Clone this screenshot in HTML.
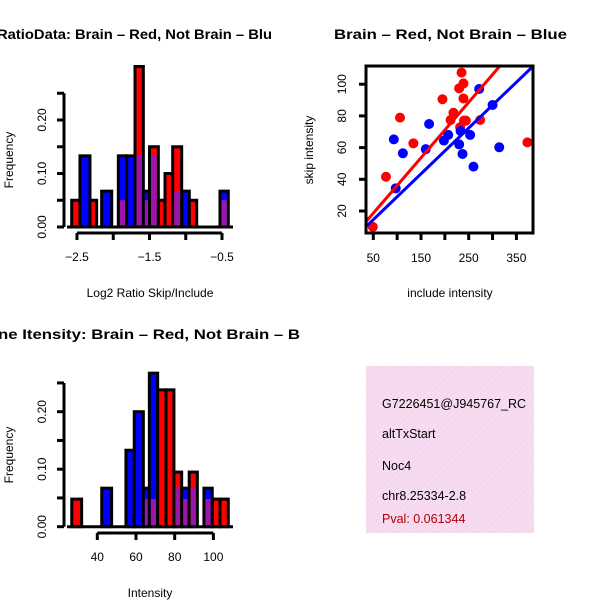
<!DOCTYPE html>
<html><head><meta charset="utf-8"><style>
html,body{margin:0;padding:0;background:#fff;}
svg{display:block;font-family:"Liberation Sans",sans-serif;}
</style></head><body>
<svg id="fig" width="600" height="600" viewBox="0 0 600 600" xmlns="http://www.w3.org/2000/svg">
<defs>
<pattern id="stripes" width="4" height="4" patternUnits="userSpaceOnUse" patternTransform="rotate(45)">
<rect width="4" height="4" fill="#f9d4f3"/><rect width="1.2" height="4" fill="#efe6ea"/>
</pattern>
</defs>
<text x="-3" y="39" font-size="14" font-weight="bold" textLength="275" lengthAdjust="spacingAndGlyphs">RatioData: Brain – Red, Not Brain – Blu</text>
<text x="334" y="39" font-size="14" font-weight="bold" textLength="233" lengthAdjust="spacingAndGlyphs">Brain – Red, Not Brain – Blue</text>
<text x="-2" y="339" font-size="14" font-weight="bold" textLength="302" lengthAdjust="spacingAndGlyphs">ne Itensity: Brain – Red, Not Brain – B</text>
<g id="h1"></g>
<g id="sc"></g>
<g id="h2"></g>
<g>
<rect x="366" y="366" width="168" height="167" fill="url(#stripes)"/>
<svg x="366" y="366" width="168" height="167" overflow="hidden">
<text x="16" y="42" font-size="12.5">G7226451@J945767_RC</text>
<text x="16" y="72" font-size="12.5">altTxStart</text>
<text x="16" y="104" font-size="12.5">Noc4</text>
<text x="16" y="134" font-size="12.5">chr8.25334-2.8</text>
<text x="16" y="157" font-size="12.5" fill="#b00000">Pval: 0.061344</text>
</svg>
</g>
</svg>
<script>
// Ratio histogram data
const h1Left = [-2.573,-2.459,-2.321,-2.16,-1.93,-1.815,-1.70,-1.585,-1.50,-1.378,-1.286,-1.18,-1.056,-0.951,-0.528];
const h1Right = [-2.459,-2.321,-2.229,-2.021,-1.815,-1.70,-1.585,-1.50,-1.378,-1.286,-1.18,-1.056,-0.951,-0.849,-0.413];
const h1Red = [0.05,0,0.05,0,0.05,0,0.30,0.05,0.15,0.05,0.10,0.15,0,0.05,0.05];
const h1Blue = [0,0.133,0,0.067,0.133,0.133,0.133,0.067,0.133,0,0,0.067,0.067,0,0.067];
const h1XTicks = [-2.5,-2,-1.5,-1,-0.5];
const h1XLabels = ["−2.5","","−1.5","","−0.5"];
const h1YTicks = [0,0.05,0.10,0.15,0.20,0.25];
const h1YLabels = ["0.00","","0.10","","0.20",""];
// Intensity histogram data
const h2Left = [26.8,42.3,54.8,59.1,63.8,66.9,71.2,75.5,79.6,83.6,87.5,95.1,99.4,103.4];
const h2Right = [31.9,47.4,59.1,63.8,66.9,71.2,75.5,79.6,83.6,87.5,91.7,99.4,103.4,107.7];
const h2Red = [0.048,0,0,0,0.048,0.048,0.238,0.238,0.095,0.048,0.095,0.048,0.048,0.048];
const h2Blue = [0,0.067,0.133,0.2,0.067,0.267,0,0,0.067,0.067,0.067,0.067,0,0];
const h2XTicks = [40,60,80,100];
const h2YTicks = [0,0.05,0.10,0.15,0.20,0.25];
const h2YLabels = ["0.00","","0.10","","0.20",""];
// Scatter data
const redX = [49,76.6,106,134,195,212,218,230,235,239,239,240,244,232,274,373];
const redY = [10,41.6,78.9,62.7,90.5,77.4,82,97.4,107.3,100.5,91,77,77,72.8,77.4,63.3];
const blueX = [93,97,112,160,167,198,207,230,233,237,253,260,272,300,314];
const blueY = [65.2,34.3,56.4,59,74.9,64.4,68,62,70.5,56,68,48,97,86.9,60.2];
const redFit = [1.1,0.35];
const blueFit = [0.1,0.289];
const scXTicks = [50,100,150,200,250,300,350];
const scXLabels = ["50","","150","","250","","350"];
const scYTicks = [20,40,60,80,100];

const NS="http://www.w3.org/2000/svg";
function mk(parent,tag,attrs){const e=document.createElementNS(NS,tag);for(const k in attrs)e.setAttribute(k,attrs[k]);parent.appendChild(e);return e;}

function hist(g,cfg,L,R,red,blue,xt,xl,yt,yl,xtitle){
  const sx=v=>cfg.x0+(v-cfg.xv0)*cfg.kx, sy=v=>cfg.y0-v*cfg.ky;
  for(let i=0;i<L.length;i++){
    const x1=sx(L[i]),x2=sx(R[i]);
    const hi=Math.max(red[i],blue[i]), lo=Math.min(red[i],blue[i]);
    if(hi<=0) continue;
    const col=red[i]>=blue[i]?"#ff0000":"#0000ff";
    const b=mk(g,"rect",{x:x1,y:sy(hi),width:x2-x1,height:sy(0)-sy(hi),fill:col,stroke:"#000","stroke-width":3});
    
    
    if(lo>0){
      const p=mk(g,"rect",{x:x1+1.5,y:sy(lo),width:x2-x1-3,height:sy(0)-sy(lo),fill:"#9a16a8"});
      
      
    }
  }
  mk(g,"line",{x1:67,x2:233,y1:sy(0),y2:sy(0),stroke:"#000","stroke-width":3});
  const ya=mk(g,"g",{});
  
  
  mk(ya,"line",{x1:cfg.yaxX,x2:cfg.yaxX,y1:sy(yt[0]),y2:sy(yt[yt.length-1]),stroke:"#000","stroke-width":3});
  yt.forEach((v,i)=>{
    mk(ya,"line",{x1:cfg.yaxX-7,x2:cfg.yaxX,y1:sy(v),y2:sy(v),stroke:"#000","stroke-width":3});
    if(yl[i]){const t=mk(ya,"text",{x:0,y:0,"font-size":12,"text-anchor":"middle",transform:`translate(${cfg.yaxX-18},${sy(v)}) rotate(-90)`});t.textContent=yl[i];
      
      }
  });
  const yt2=mk(g,"text",{x:0,y:0,"font-size":12,"text-anchor":"middle",transform:`translate(13,${cfg.ymid}) rotate(-90)`});yt2.textContent="Frequency";
  
  
  const xa=mk(g,"g",{});
  
  
  mk(xa,"line",{x1:sx(xt[0]),x2:sx(xt[xt.length-1]),y1:cfg.xaxY,y2:cfg.xaxY,stroke:"#000","stroke-width":3});
  xt.forEach((v,i)=>{
    mk(xa,"line",{x1:sx(v),x2:sx(v),y1:cfg.xaxY,y2:cfg.xaxY+7,stroke:"#000","stroke-width":3});
    if(xl[i]){const t=mk(xa,"text",{x:sx(v),y:cfg.xaxY+28,"font-size":12,"text-anchor":"middle"});t.textContent=xl[i];
      
      }
  });
  const xt2=mk(g,"text",{x:150,y:cfg.xaxY+64,"font-size":12,"text-anchor":"middle"});xt2.textContent=xtitle;
  
  
}

hist(document.getElementById("h1"),{x0:77,xv0:-2.5,kx:72.5,y0:227,ky:535,yaxX:64,xaxY:233,ymid:160},
  h1Left,h1Right,h1Red,h1Blue,h1XTicks,h1XLabels,h1YTicks,h1YLabels,"Log2 Ratio Skip/Include");
hist(document.getElementById("h2"),{x0:97.3,xv0:40,kx:38.7/20,y0:526.7,ky:575,yaxX:64,xaxY:533,ymid:455},
  h2Left,h2Right,h2Red,h2Blue,h2XTicks,h2XTicks.map(String),h2YTicks,h2YLabels,"Intensity");

(function(){
  const g=document.getElementById("sc");
  const sx=v=>373.3+(v-50)*47.7/100, sy=v=>211-(v-20)*31.7/20;
  const clip=mk(g,"clipPath",{id:"scclip"});mk(clip,"rect",{x:366,y:66,width:167,height:167});
  const pts=mk(g,"g",{"clip-path":"url(#scclip)"});
  redX.forEach((x,i)=>{const c=mk(pts,"circle",{cx:sx(x),cy:sy(redY[i]),r:5,fill:"#ff0000"});
    
    });
  blueX.forEach((x,i)=>{const c=mk(pts,"circle",{cx:sx(x),cy:sy(blueY[i]),r:5,fill:"#0000ff"});
    
    });
  const xa=0,xb=450;
  const rl=mk(pts,"line",{x1:sx(xa),y1:sy(redFit[0]+redFit[1]*xa),x2:sx(xb),y2:sy(redFit[0]+redFit[1]*xb),stroke:"#ff0000","stroke-width":3});
  
  
  const bl=mk(pts,"line",{x1:sx(xa),y1:sy(blueFit[0]+blueFit[1]*xa),x2:sx(xb),y2:sy(blueFit[0]+blueFit[1]*xb),stroke:"#0000ff","stroke-width":3});
  
  
  const box=mk(g,"rect",{x:366,y:66,width:167,height:167,fill:"none",stroke:"#000","stroke-width":3});
  
  
  scXTicks.forEach((v,i)=>{
    mk(g,"line",{x1:sx(v),x2:sx(v),y1:233,y2:240,stroke:"#000","stroke-width":3});
    if(scXLabels[i]){const t=mk(g,"text",{x:sx(v),y:262,"font-size":12,"text-anchor":"middle"});t.textContent=scXLabels[i];
      
      }
  });
  scYTicks.forEach(v=>{
    mk(g,"line",{x1:359,x2:366,y1:sy(v),y2:sy(v),stroke:"#000","stroke-width":3});
    const t=mk(g,"text",{x:0,y:0,"font-size":12,"text-anchor":"middle",transform:`translate(346,${sy(v)}) rotate(-90)`});t.textContent=String(v);
    
    
  });
  const xt=mk(g,"text",{x:450,y:297,"font-size":12,"text-anchor":"middle"});xt.textContent="include intensity";
  
  
  const yt=mk(g,"text",{x:0,y:0,"font-size":12,"text-anchor":"middle",transform:"translate(313,150) rotate(-90)"});yt.textContent="skip intensity";
  
  
})();
</script>
</body></html>
